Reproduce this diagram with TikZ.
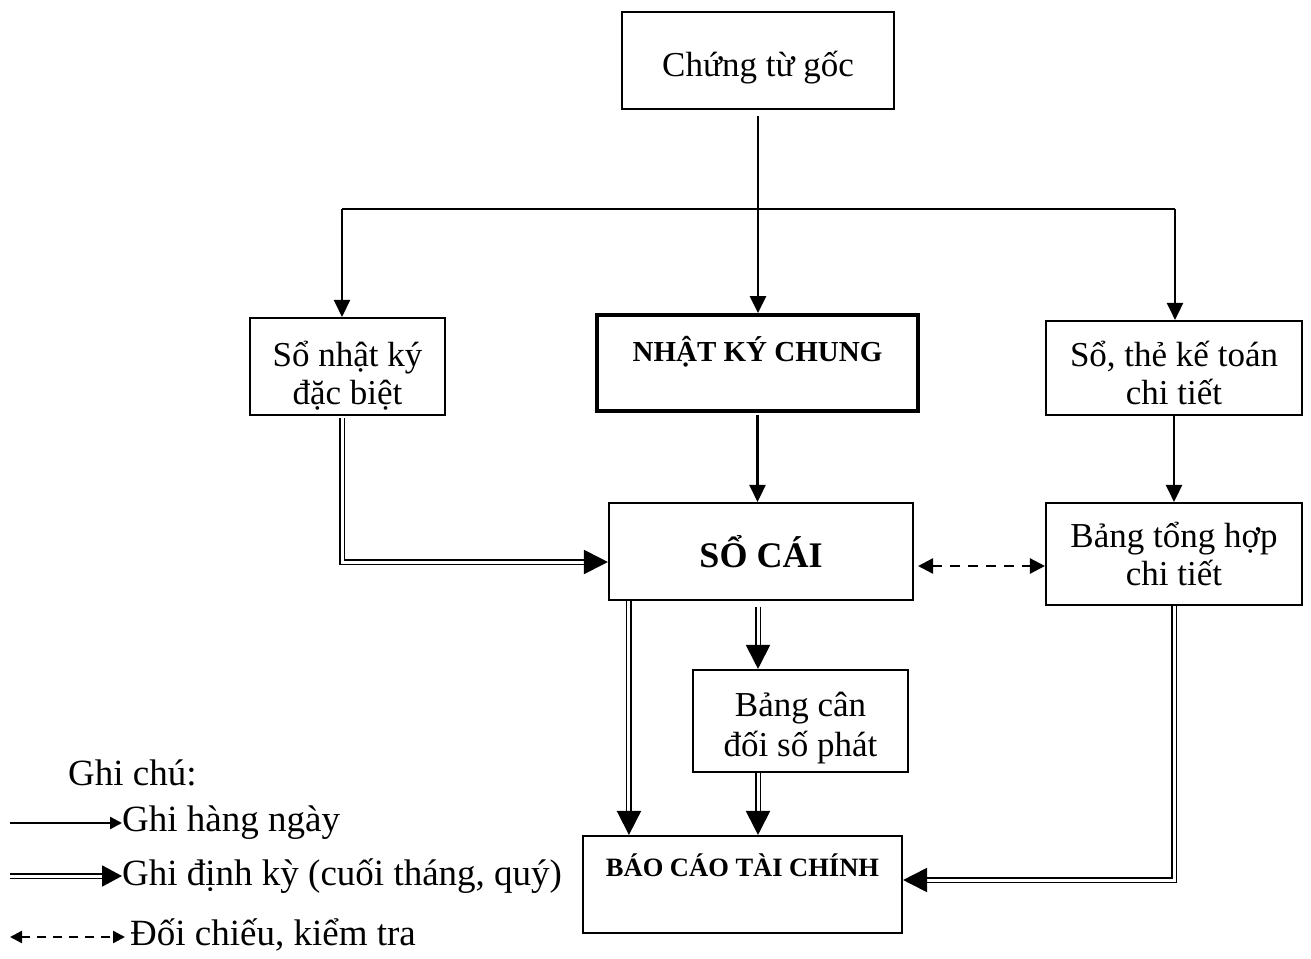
\documentclass[tikz,border=0pt]{standalone}
\usepackage{fontspec}
\setmainfont{Liberation Serif}
\usetikzlibrary{arrows.meta,calc}

% extra height on the first line pushes a text block slightly down in its box
\newcommand\tallfirst[1]{\rule{0pt}{#1}}

\tikzset{
  box/.style={draw, line width=2.1pt, align=center, inner sep=0pt,
    font=\fontsize{35}{38}\selectfont},
  boldbox/.style={box, font=\fontsize{29}{34}\selectfont\bfseries},
  arr/.style={line width=2.5pt, -{Triangle[length=17pt,width=16pt]}},
  dbl/.style={double, line width=1.9pt, double distance=3pt,
    -{Triangle[length=24pt,width=24pt]}},
  chk/.style={line width=2.4pt, dash pattern=on 10pt off 8pt,
    {Triangle[length=15pt,width=15pt]}-{Triangle[length=15pt,width=15pt]}},
  legendtext/.style={anchor=west, inner sep=0pt,
    font=\fontsize{37}{40}\selectfont}
}

\begin{document}
\begin{tikzpicture}[x=1pt,y=-1pt]
\useasboundingbox (0,0) rectangle (1311,958);

% boxes
\node[box, minimum width=272pt, minimum height=97pt] (goc) at (758,60.5) {\tallfirst{40pt}Chứng từ gốc};
\node[box, minimum width=195pt, minimum height=97pt] (nkdb) at (347.5,366.5) {\tallfirst{44pt}Sổ nhật ký\\đặc biệt};
\node[boldbox, line width=3.8pt, minimum width=321pt, minimum height=96pt] (nkc) at (757.5,363) {NHẬT KÝ CHUNG\\[-6pt]~};
\node[box, minimum width=256pt, minimum height=94pt] (ctct) at (1174,368) {\tallfirst{36pt}Sổ, thẻ kế toán\\chi tiết};
\node[box, font=\fontsize{36}{38}\selectfont\bfseries, minimum width=304pt, minimum height=97pt] (socai) at (761,551.5) {SỔ CÁI};
\node[box, minimum width=256pt, minimum height=102pt] (bth) at (1174,554) {Bảng tổng hợp\\chi tiết};
\node[box, minimum width=215pt, minimum height=102pt] (bcd) at (800.5,721) {\tallfirst{38pt}Bảng cân\\[2pt]đối số phát};
\node[boldbox, font=\fontsize{26.5}{34}\selectfont\bfseries, minimum width=319pt, minimum height=97pt] (bctc) at (742.5,884.5) {BÁO CÁO TÀI CHÍNH\\[4pt]~};

% distribution from the source documents
\coordinate (jl) at (342,209);
\coordinate (jr) at (1175,209);
\draw[line width=2.5pt] (jl) -- (jr);
\draw[arr] (goc.south |- 0,116) -- (goc.south |- nkc.north);
\draw[arr] (jl) -- (jl |- nkdb.north);
\draw[arr] (jr) -- (jr |- ctct.north);

% daily postings
\draw[arr] (nkc.south |- 0,415) -- (nkc.south |- socai.north);
\draw[arr] (ctct.south |- 0,415) -- (ctct.south |- bth.north);

% periodic postings
\draw[dbl] (jl |- 0,418) |- (socai.west |- 0,562);
\coordinate (sl) at ($(socai.south west)+(21,0)$);
\draw[dbl] (sl) -- (sl |- bctc.north);
\coordinate (sm) at (758,0);
\draw[dbl] (sm |- 0,607) -- (sm |- bcd.north);
\draw[dbl] (sm |- bcd.south) -- (sm |- bctc.north);
\draw[dbl] (bth.south) |- (bctc.east |- 0,880);

% cross-check
\draw[chk] (918,566) -- (bth.west |- 0,566);

% legend
\node[legendtext] (gc) at (68,773) {Ghi chú:};
\node[legendtext] (l1) at (122,823) {Ghi hàng ngày};
\node[legendtext] (l2) at (122,876) {Ghi định kỳ (cuối tháng, quý)};
\node[legendtext] (l3) at (130,935) {Đối chiếu, kiểm tra};
\coordinate (s1) at (10,823);
\coordinate (s2) at (10,876);
\coordinate (s3) at (10,937);
\draw[line width=2.4pt, -{Triangle[length=12pt,width=12pt]}] (s1) -- (l1.west);
\draw[dbl, -{Triangle[length=20pt,width=21pt]}] (s2) -- (l2.west);
\draw[line width=2.4pt, dash pattern=on 9pt off 7pt,
  {Triangle[length=12pt,width=12pt]}-{Triangle[length=12pt,width=12pt]}] (s3) -- ($(l3.west |- s3)+(-5,0)$);
\end{tikzpicture}
\end{document}
